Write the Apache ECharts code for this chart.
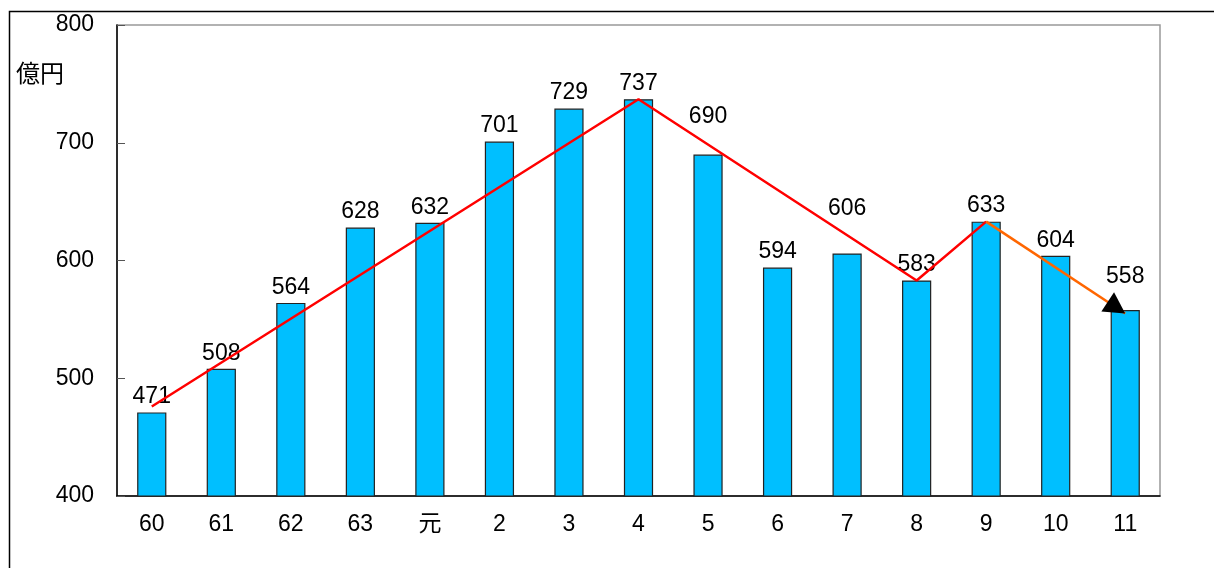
<!DOCTYPE html>
<html>
<head>
<meta charset="utf-8">
<style>
  html, body { margin: 0; padding: 0; background: #fff; }
  #chart { width: 1214px; height: 568px; }
</style>
<script src="https://cdn.jsdelivr.net/npm/echarts@6/dist/echarts.min.js"></script>
</head>
<body>
<div id="chart"></div>
<script>
const categories = ['60', '61', '62', '63', '元', '2', '3', '4', '5', '6', '7', '8', '9', '10', '11']
const amounts = [471, 508, 564, 628, 632, 701, 729, 737, 690, 594, 606, 583, 633, 604, 558]
// trend lines drawn over the bars
const trendRed = [476, null, null, null, null, null, null, 737, null, null, null, 583, 633, null, null]
const trendOrange = [null, null, null, null, null, null, null, null, null, null, null, null, 633, null, 555]
const yTicks = [400, 500, 600, 700, 800]

// a few value labels are pushed up so the lines don't hit them
const labelLift = { 8: -22, 10: -29, 14: -18 }

const font = '"Liberation Sans", Arial, "Noto Sans CJK JP", sans-serif'
const chart = echarts.init(document.getElementById('chart'))

const barData = amounts.map((v, i) => {
  const item = { value: v }
  if (labelLift[i]) item.label = { offset: [0, labelLift[i]] }
  return item
})

const arrowIdx = trendOrange.length - 1
const orangeData = trendOrange.map((v, i) => {
  if (i !== arrowIdx) return v
  return { value: v, symbol: 'triangle', itemStyle: { color: '#000' } }
})

const option = {
  animation: false,
  backgroundColor: '#fff',
  textStyle: { fontFamily: font },
  title: {
    text: '億円',
    left: 11,
    top: 58,
    textStyle: { fontSize: 24, fontWeight: 'normal', color: '#000', fontFamily: font }
  },
  graphic: [{
    type: 'rect',
    left: 7,
    top: 9,
    shape: { width: 1230, height: 600 },
    style: { fill: 'none', stroke: '#000', lineWidth: 1.5 },
    silent: true
  }],
  grid: {
    left: 117, right: 54, top: 25, bottom: 72,
    show: true, borderColor: '#999', borderWidth: 1.5, backgroundColor: 'transparent'
  },
  xAxis: {
    type: 'category',
    data: categories,
    axisLine: { lineStyle: { color: '#000', width: 1.5 } },
    axisTick: { inside: true, length: 7, lineStyle: { color: '#777' } },
    axisLabel: { fontSize: 23, color: '#000', margin: 17, fontFamily: font },
    splitLine: { show: false }
  },
  yAxis: {
    type: 'value',
    min: yTicks[0],
    max: yTicks[yTicks.length - 1],
    interval: 100,
    axisLine: { show: true, lineStyle: { color: '#000', width: 1.5 } },
    axisTick: { show: true, inside: true, length: 8, lineStyle: { color: '#555' } },
    axisLabel: { fontSize: 23, color: '#000', margin: 23, fontFamily: font },
    splitLine: { show: false }
  },
  series: [
    {
      type: 'bar',
      data: barData,
      barWidth: '42%',
      itemStyle: { color: '#00BFFF', borderColor: '#222', borderWidth: 1.2 },
      label: { show: true, position: 'top', distance: 4, fontSize: 23, color: '#000', fontFamily: font },
      z: 2
    },
    {
      type: 'line',
      data: trendRed,
      connectNulls: true,
      symbol: 'none',
      lineStyle: { color: '#FF0000', width: 2.5 },
      z: 5
    },
    {
      type: 'line',
      data: orangeData,
      connectNulls: true,
      symbol: 'none',
      showSymbol: true,
      symbolSize: [23, 21],
      lineStyle: { color: '#FF6600', width: 2.5 },
      z: 6
    }
  ]
}

chart.setOption(option)

// point the arrow head along the orange segment, tip on the end point
const p0 = chart.convertToPixel({ gridIndex: 0 }, [12, trendOrange[12]])
const p1 = chart.convertToPixel({ gridIndex: 0 }, [arrowIdx, trendOrange[arrowIdx]])
const dx = p1[0] - p0[0], dy = p1[1] - p0[1]
const len = Math.sqrt(dx * dx + dy * dy)
const ang = Math.atan2(dy, dx) * 180 / Math.PI
const half = 10.5
option.series[2].symbolRotate = -90 - ang
option.series[2].symbolOffset = [-dx / len * half, -dy / len * half]
chart.setOption(option, true)
</script>
</body>
</html>
